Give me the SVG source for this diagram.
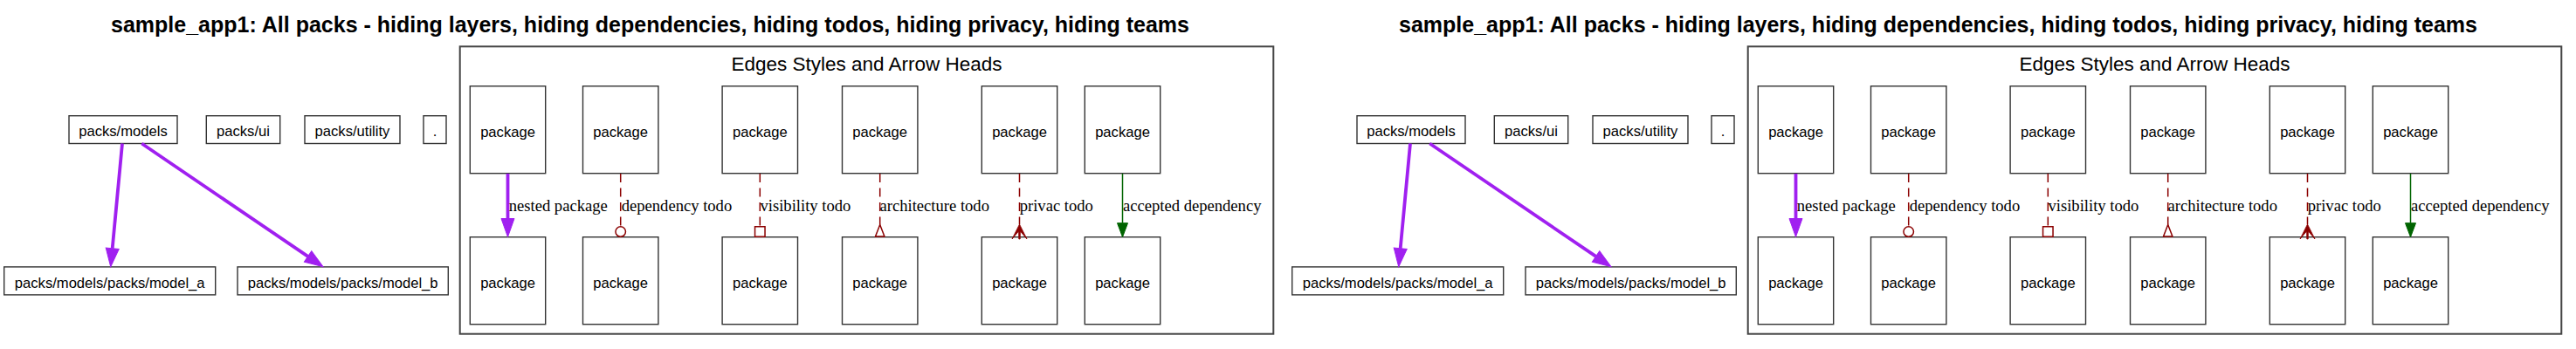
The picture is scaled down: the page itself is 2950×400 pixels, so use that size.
<svg xmlns="http://www.w3.org/2000/svg" width="2950" height="400" viewBox="0 0 2950 400">
<style>
.bg{fill:#ffffff}
.title{font-family:"Liberation Sans",Arial,Helvetica,sans-serif;font-size:25px;font-weight:bold;fill:#000;text-anchor:middle}
.ctitle{font-family:"Liberation Sans",Arial,Helvetica,sans-serif;font-size:22.5px;fill:#000;text-anchor:middle}
.node rect{fill:#fff;stroke:#333;stroke-width:1.4}
.node text{font-family:"Liberation Sans",Arial,Helvetica,sans-serif;font-size:16.6px;fill:#000;text-anchor:middle}
.cluster{fill:none;stroke:#444;stroke-width:2}
.e{fill:none}
.nest{stroke:#a020f0;stroke-width:3.8}
.todo{stroke:#8b0000;stroke-width:1.5;stroke-dasharray:10,6.5}
.acc{stroke:#006400;stroke-width:1.5}
.lbl{font-family:"Liberation Serif","Times New Roman",serif;font-size:18.6px;fill:#000}
</style>
<defs>
<marker id="m-purple" markerUnits="userSpaceOnUse" markerWidth="22" markerHeight="16" refX="0" refY="7.5" orient="auto" overflow="visible"><path d="M0,0 L21,7.5 L0,15 Z" fill="#a020f0" stroke="#a020f0" stroke-width="1"/></marker>
<marker id="m-odot" markerUnits="userSpaceOnUse" markerWidth="14" markerHeight="14" refX="0.75" refY="6.5" orient="auto" overflow="visible"><circle cx="6.5" cy="6.5" r="5.75" fill="none" stroke="#8b0000" stroke-width="1.5"/></marker>
<marker id="m-obox" markerUnits="userSpaceOnUse" markerWidth="14" markerHeight="14" refX="0.75" refY="6.5" orient="auto" overflow="visible"><rect x="0.75" y="0.75" width="11.5" height="11.5" fill="none" stroke="#8b0000" stroke-width="1.5"/></marker>
<marker id="m-oinv" markerUnits="userSpaceOnUse" markerWidth="16" markerHeight="14" refX="0.5" refY="6" orient="auto" overflow="visible"><path d="M0.5,6 L14,0.8 L14,11.2 Z" fill="none" stroke="#8b0000" stroke-width="1.5"/></marker>
<marker id="m-crow" markerUnits="userSpaceOnUse" markerWidth="18" markerHeight="18" refX="0" refY="8.5" orient="auto" overflow="visible"><path d="M0,8.5 L17,0 L8,7.6 L17,7.8 L17,9.2 L8,9.4 L17,17 Z" fill="#8b0000" stroke="#8b0000" stroke-width="0.8"/></marker>
<marker id="m-green" markerUnits="userSpaceOnUse" markerWidth="17" markerHeight="13" refX="0" refY="6" orient="auto" overflow="visible"><path d="M0,0 L16,6 L0,12 Z" fill="#006400" stroke="#006400" stroke-width="1"/></marker>
</defs>
<rect class="bg" x="0" y="0" width="2950" height="400"/>

<g id="diagram-left">
<text class="title" x="744.5" y="37">sample_app1: All packs - hiding layers, hiding dependencies, hiding todos, hiding privacy, hiding teams</text>
<g id="cluster-legend">
<rect class="cluster" x="526.7" y="53.3" width="931.6" height="329.4"/>
<text class="ctitle" x="992.5" y="80.5">Edges Styles and Arrow Heads</text>
</g>
<g id="packs-models" class="node"><rect x="79" y="132.7" width="124" height="31.8"/><text x="141" y="156">packs/models</text></g>
<g id="packs-ui" class="node"><rect x="236.3" y="132.7" width="84.4" height="31.8"/><text x="278.5" y="156">packs/ui</text></g>
<g id="packs-utility" class="node"><rect x="349" y="132.7" width="109" height="31.8"/><text x="403.5" y="156">packs/utility</text></g>
<g id="root" class="node"><rect x="485" y="132.7" width="26" height="31.8"/><text x="498" y="156">.</text></g>
<g id="model-a" class="node"><rect x="4.7" y="305.9" width="242" height="32"/><text x="125.7" y="329.5">packs/models/packs/model_a</text></g>
<g id="model-b" class="node"><rect x="272" y="305.9" width="241.3" height="32"/><text x="392.7" y="329.5">packs/models/packs/model_b</text></g>
<g id="pkg-1a" class="node"><rect x="538.3" y="98.7" width="86.4" height="100"/><text x="581.5" y="157">package</text></g>
<g id="pkg-1b" class="node"><rect x="538.3" y="271.7" width="86.4" height="100"/><text x="581.5" y="330">package</text></g>
<g id="pkg-2a" class="node"><rect x="667.5" y="98.7" width="86.4" height="100"/><text x="710.7" y="157">package</text></g>
<g id="pkg-2b" class="node"><rect x="667.5" y="271.7" width="86.4" height="100"/><text x="710.7" y="330">package</text></g>
<g id="pkg-3a" class="node"><rect x="827.1" y="98.7" width="86.4" height="100"/><text x="870.3" y="157">package</text></g>
<g id="pkg-3b" class="node"><rect x="827.1" y="271.7" width="86.4" height="100"/><text x="870.3" y="330">package</text></g>
<g id="pkg-4a" class="node"><rect x="964.5" y="98.7" width="86.4" height="100"/><text x="1007.7" y="157">package</text></g>
<g id="pkg-4b" class="node"><rect x="964.5" y="271.7" width="86.4" height="100"/><text x="1007.7" y="330">package</text></g>
<g id="pkg-5a" class="node"><rect x="1124.3" y="98.7" width="86.4" height="100"/><text x="1167.5" y="157">package</text></g>
<g id="pkg-5b" class="node"><rect x="1124.3" y="271.7" width="86.4" height="100"/><text x="1167.5" y="330">package</text></g>
<g id="pkg-6a" class="node"><rect x="1242.3" y="98.7" width="86.4" height="100"/><text x="1285.5" y="157">package</text></g>
<g id="pkg-6b" class="node"><rect x="1242.3" y="271.7" width="86.4" height="100"/><text x="1285.5" y="330">package</text></g>
<g id="connectors-left">
<path class="e nest" d="M140,164.5 L128.7,284.8" marker-end="url(#m-purple)"/>
<path class="e nest" d="M162.3,164.5 L352.6,293.9" marker-end="url(#m-purple)"/>
<path class="e nest" d="M581.5,199 L581.5,250.5" marker-end="url(#m-purple)"/>
<text class="lbl" x="582.7" y="242">nested package</text>
<path class="e todo" d="M710.7,199 L710.7,259.8" marker-end="url(#m-odot)"/>
<text class="lbl" x="711.7" y="242">dependency todo</text>
<path class="e todo" d="M870.3,199 L870.3,259.8" marker-end="url(#m-obox)"/>
<text class="lbl" x="870.5" y="242">visibility todo</text>
<path class="e todo" d="M1007.7,199 L1007.7,257.5" marker-end="url(#m-oinv)"/>
<text class="lbl" x="1007.5" y="242">architecture todo</text>
<path class="e todo" d="M1167.5,199 L1167.5,257" marker-end="url(#m-crow)"/>
<text class="lbl" x="1167.7" y="242">privac todo</text>
<path class="e acc" d="M1285.5,199 L1285.5,255.7" marker-end="url(#m-green)"/>
<text class="lbl" x="1286" y="242">accepted dependency</text>
</g>
</g>

<g id="diagram-right" transform="translate(1475,0)">
<text class="title" x="744.5" y="37">sample_app1: All packs - hiding layers, hiding dependencies, hiding todos, hiding privacy, hiding teams</text>
<g id="cluster-legend-r">
<rect class="cluster" x="526.7" y="53.3" width="931.6" height="329.4"/>
<text class="ctitle" x="992.5" y="80.5">Edges Styles and Arrow Heads</text>
</g>
<g id="packs-models-r" class="node"><rect x="79" y="132.7" width="124" height="31.8"/><text x="141" y="156">packs/models</text></g>
<g id="packs-ui-r" class="node"><rect x="236.3" y="132.7" width="84.4" height="31.8"/><text x="278.5" y="156">packs/ui</text></g>
<g id="packs-utility-r" class="node"><rect x="349" y="132.7" width="109" height="31.8"/><text x="403.5" y="156">packs/utility</text></g>
<g id="root-r" class="node"><rect x="485" y="132.7" width="26" height="31.8"/><text x="498" y="156">.</text></g>
<g id="model-a-r" class="node"><rect x="4.7" y="305.9" width="242" height="32"/><text x="125.7" y="329.5">packs/models/packs/model_a</text></g>
<g id="model-b-r" class="node"><rect x="272" y="305.9" width="241.3" height="32"/><text x="392.7" y="329.5">packs/models/packs/model_b</text></g>
<g id="pkg-1a-r" class="node"><rect x="538.3" y="98.7" width="86.4" height="100"/><text x="581.5" y="157">package</text></g>
<g id="pkg-1b-r" class="node"><rect x="538.3" y="271.7" width="86.4" height="100"/><text x="581.5" y="330">package</text></g>
<g id="pkg-2a-r" class="node"><rect x="667.5" y="98.7" width="86.4" height="100"/><text x="710.7" y="157">package</text></g>
<g id="pkg-2b-r" class="node"><rect x="667.5" y="271.7" width="86.4" height="100"/><text x="710.7" y="330">package</text></g>
<g id="pkg-3a-r" class="node"><rect x="827.1" y="98.7" width="86.4" height="100"/><text x="870.3" y="157">package</text></g>
<g id="pkg-3b-r" class="node"><rect x="827.1" y="271.7" width="86.4" height="100"/><text x="870.3" y="330">package</text></g>
<g id="pkg-4a-r" class="node"><rect x="964.5" y="98.7" width="86.4" height="100"/><text x="1007.7" y="157">package</text></g>
<g id="pkg-4b-r" class="node"><rect x="964.5" y="271.7" width="86.4" height="100"/><text x="1007.7" y="330">package</text></g>
<g id="pkg-5a-r" class="node"><rect x="1124.3" y="98.7" width="86.4" height="100"/><text x="1167.5" y="157">package</text></g>
<g id="pkg-5b-r" class="node"><rect x="1124.3" y="271.7" width="86.4" height="100"/><text x="1167.5" y="330">package</text></g>
<g id="pkg-6a-r" class="node"><rect x="1242.3" y="98.7" width="86.4" height="100"/><text x="1285.5" y="157">package</text></g>
<g id="pkg-6b-r" class="node"><rect x="1242.3" y="271.7" width="86.4" height="100"/><text x="1285.5" y="330">package</text></g>
<g id="connectors-right">
<path class="e nest" d="M140,164.5 L128.7,284.8" marker-end="url(#m-purple)"/>
<path class="e nest" d="M162.3,164.5 L352.6,293.9" marker-end="url(#m-purple)"/>
<path class="e nest" d="M581.5,199 L581.5,250.5" marker-end="url(#m-purple)"/>
<text class="lbl" x="582.7" y="242">nested package</text>
<path class="e todo" d="M710.7,199 L710.7,259.8" marker-end="url(#m-odot)"/>
<text class="lbl" x="711.7" y="242">dependency todo</text>
<path class="e todo" d="M870.3,199 L870.3,259.8" marker-end="url(#m-obox)"/>
<text class="lbl" x="870.5" y="242">visibility todo</text>
<path class="e todo" d="M1007.7,199 L1007.7,257.5" marker-end="url(#m-oinv)"/>
<text class="lbl" x="1007.5" y="242">architecture todo</text>
<path class="e todo" d="M1167.5,199 L1167.5,257" marker-end="url(#m-crow)"/>
<text class="lbl" x="1167.7" y="242">privac todo</text>
<path class="e acc" d="M1285.5,199 L1285.5,255.7" marker-end="url(#m-green)"/>
<text class="lbl" x="1286" y="242">accepted dependency</text>
</g>
</g>
</svg>
